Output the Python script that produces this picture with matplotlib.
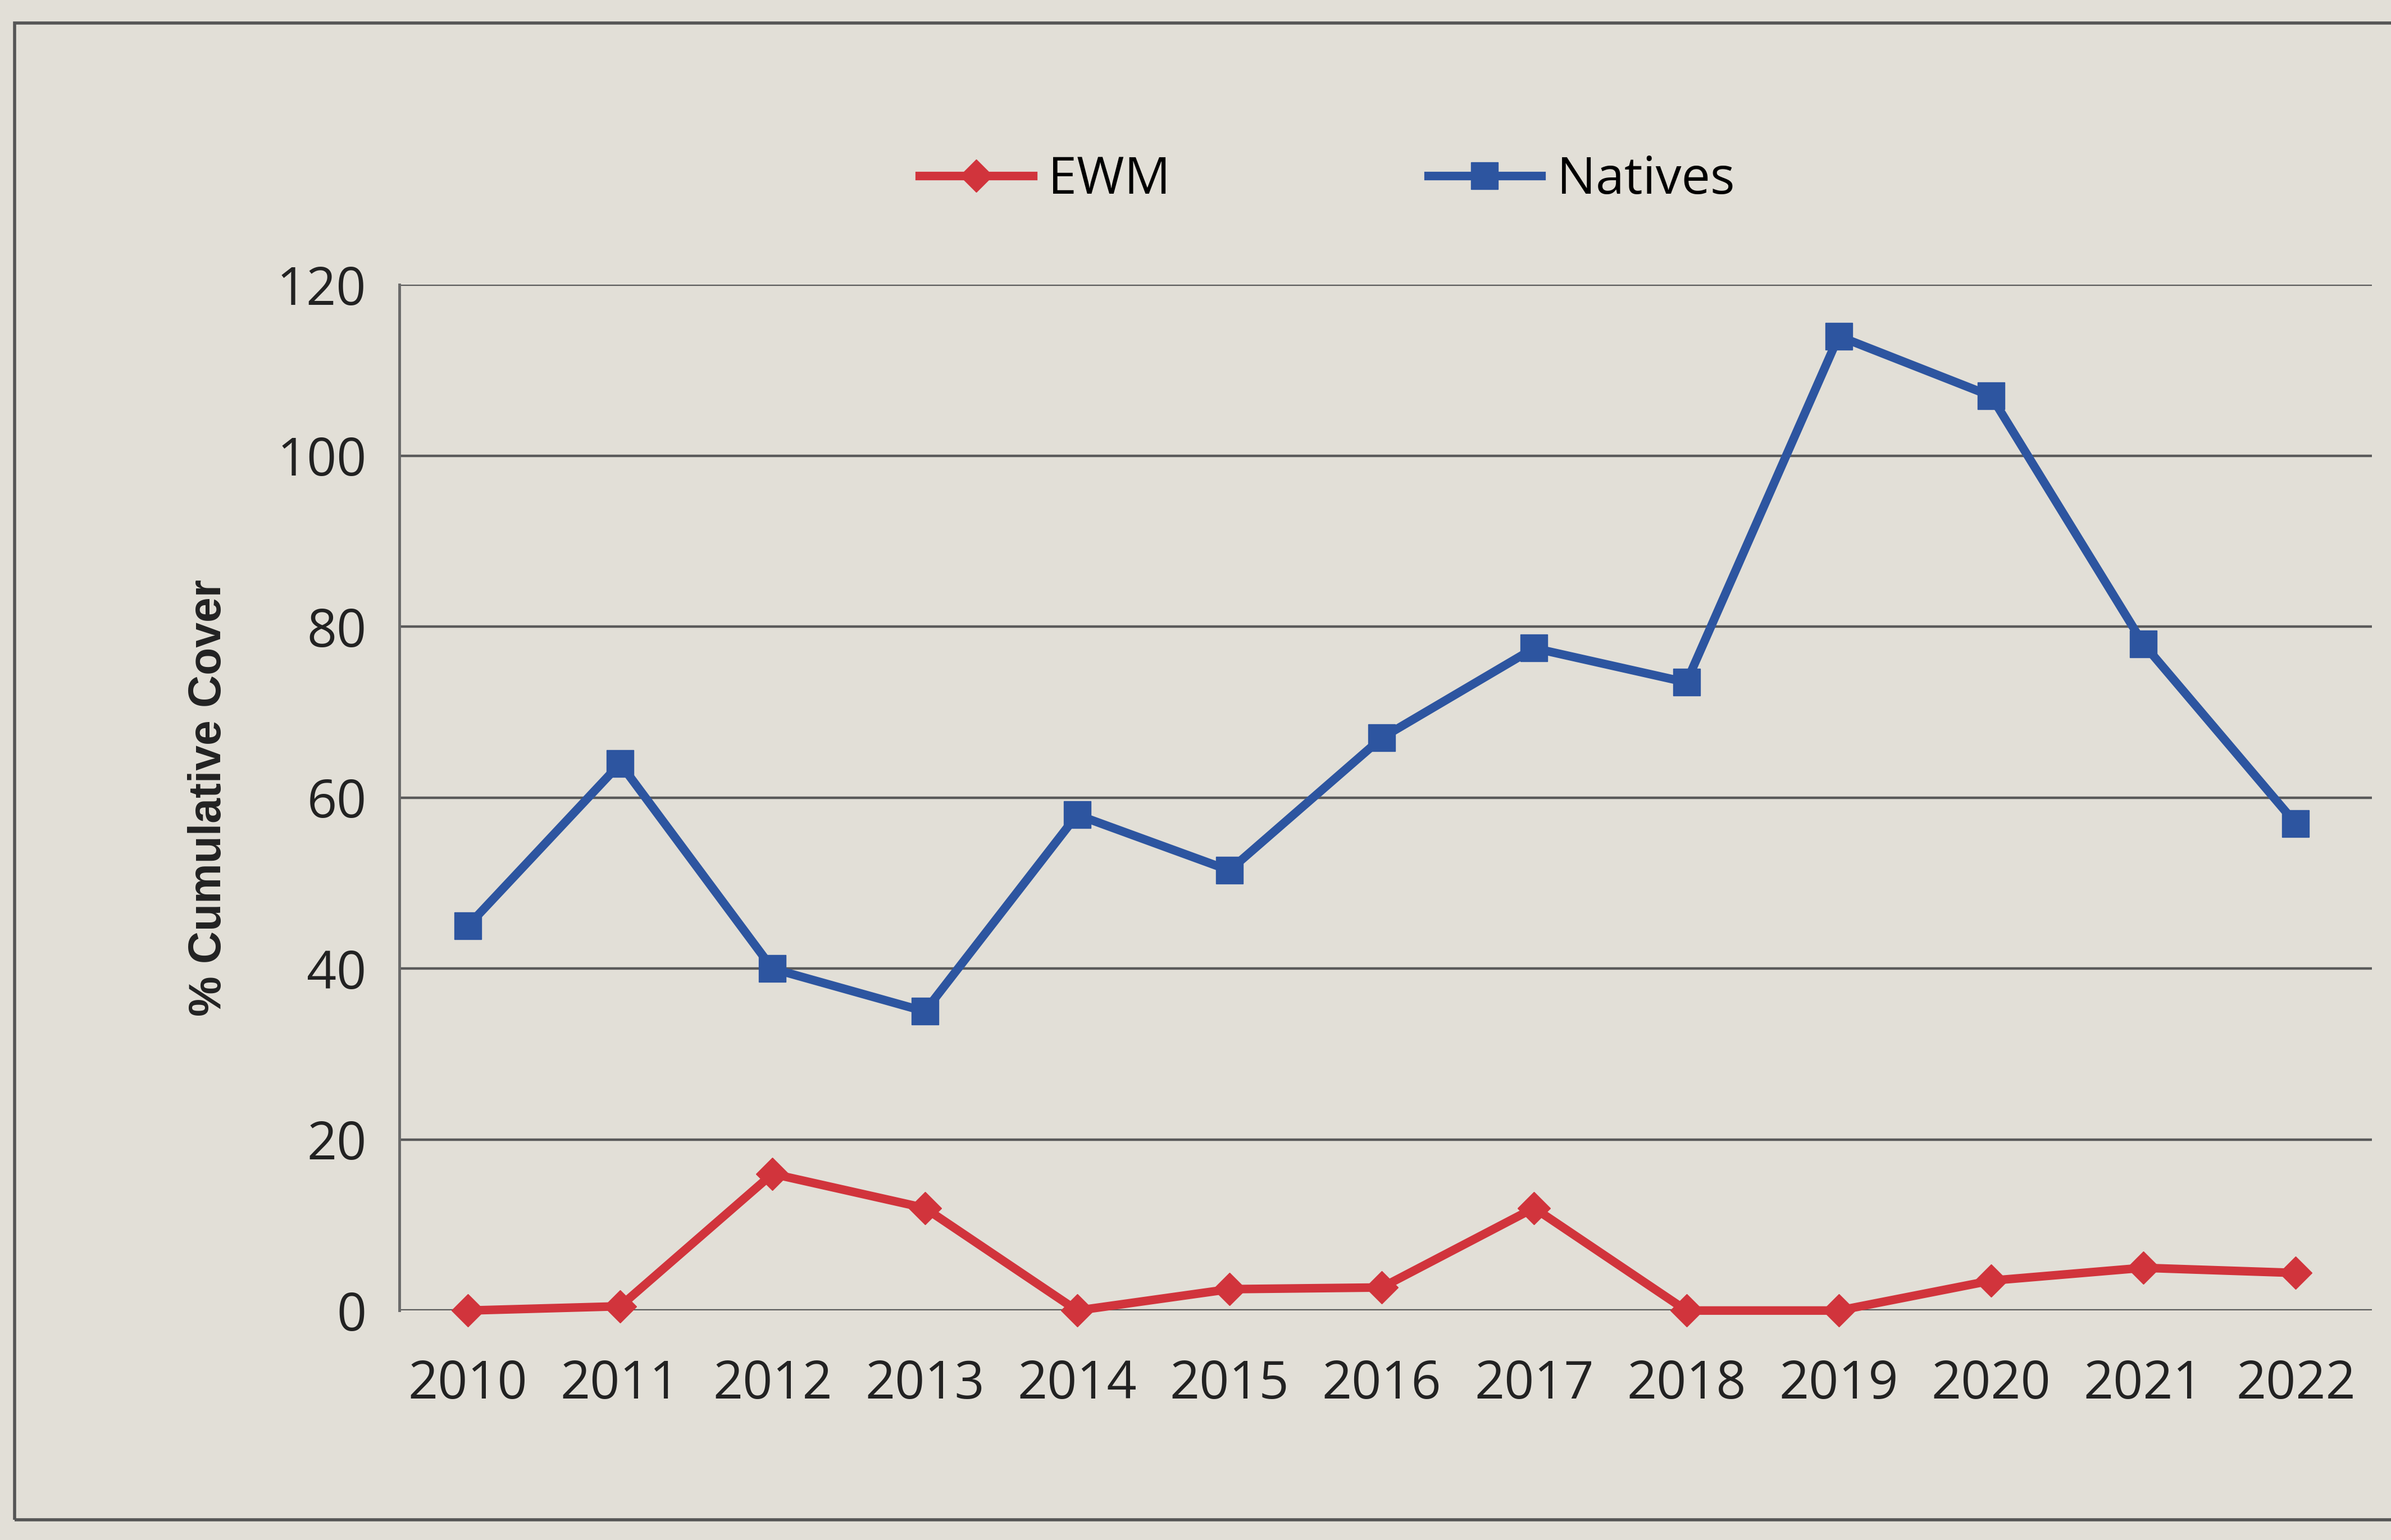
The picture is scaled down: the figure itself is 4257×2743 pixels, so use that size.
import matplotlib
matplotlib.use("Agg")
import matplotlib.pyplot as plt
from matplotlib.patches import Rectangle

years = [2010, 2011, 2012, 2013, 2014, 2015, 2016, 2017, 2018, 2019, 2020, 2021, 2022]
ewm = [0, 0.5, 16, 12, 0, 2.5, 2.7, 12, 0, 0, 3.5, 5, 4.4]
natives = [45, 64, 40, 35, 58, 51.5, 67, 77.5, 73.5, 114, 107, 78, 57]
yticks = [0, 20, 40, 60, 80, 100, 120]

bg = "#e2dfd7"
fig = plt.figure(figsize=(42.57, 27.43), dpi=100, facecolor=bg)
ax = fig.add_axes([0.167, 0.149, 0.825, 0.666], facecolor=bg)

ax.plot(years, ewm, color="#d1343c", lw=11, marker="D", ms=30, label="EWM",
        zorder=3, clip_on=False)
ax.plot(years, natives, color="#2d55a0", lw=11, marker="s", ms=34, label="Natives",
        zorder=3, clip_on=False)

ax.set_xlim(2009.55, 2022.5)
ax.set_ylim(0, 120)
ax.set_yticks(yticks)
ax.set_xticks(years)
ax.set_xticklabels([str(y) for y in years])
ax.grid(axis="y", color="#5a5a5a", lw=3.2, zorder=1)
ax.set_axisbelow(True)
for s in ["top", "right", "bottom"]:
    ax.spines[s].set_visible(False)
ax.spines["left"].set_color("#6a6a6a")
ax.spines["left"].set_linewidth(3.5)
ax.tick_params(axis="both", length=0, labelsize=67, colors="#222222", labelcolor="#222222")
ax.tick_params(axis="y", pad=42)
ax.tick_params(axis="x", pad=62)
for lab in ax.get_xticklabels() + ax.get_yticklabels():
    lab.set_family(["Open Sans", "DejaVu Sans"])

ax.set_ylabel("% Cumulative Cover", fontsize=58, fontweight="bold",
              family=["Liberation Sans Narrow", "Liberation Sans", "DejaVu Sans"],
              color="#222222", labelpad=60)

leg = fig.legend(loc="center", bbox_to_anchor=(0.555, 0.883), ncol=2, frameon=False,
                 prop={"family": ["Open Sans", "DejaVu Sans"], "size": 66},
                 handlelength=2.2, columnspacing=5.0, handletextpad=0.3)

fig.patches.append(Rectangle((0.006, 0.013), 1.2, 0.972, transform=fig.transFigure,
                             fill=False, edgecolor="#555555", lw=4))

fig.savefig("out.png", dpi=100, facecolor=bg)
